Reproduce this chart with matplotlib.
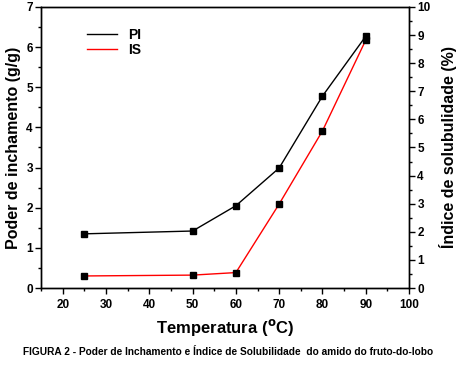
import matplotlib
matplotlib.use('Agg')
import matplotlib.pyplot as plt
from matplotlib.ticker import MultipleLocator
from matplotlib.lines import Line2D

plt.rcParams['font.family'] = ['Liberation Sans', 'DejaVu Sans']

# Data
temperatura = [25, 50, 60, 70, 80, 90]
poder_inchamento = [1.35, 1.42, 2.05, 2.99, 4.78, 6.27]   # g/g, left axis
indice_solubilidade = [0.43, 0.46, 0.55, 2.99, 5.59, 8.82]  # %, right axis

fig = plt.figure(figsize=(4.57, 3.66), dpi=100)
ax = fig.add_axes([0.09, 0.213, 0.805, 0.768])
ax2 = ax.twinx()

# Plot lines
ax.plot(temperatura, poder_inchamento, color='black', lw=1.0,
        marker='s', ms=5, mfc='black', mec='black')
ax2.plot(temperatura, indice_solubilidade, color='red', lw=1.0)
ax2.plot(temperatura, indice_solubilidade, ls='none', marker='s', ms=5,
         mfc='black', mec='black')

ax.set_xlim(15, 100)
ax.set_ylim(0, 7)
ax2.set_ylim(0, 10)

ax.xaxis.set_major_locator(MultipleLocator(10))
ax.xaxis.set_minor_locator(MultipleLocator(5))
ax.yaxis.set_major_locator(MultipleLocator(1))
ax.yaxis.set_minor_locator(MultipleLocator(0.5))
ax2.yaxis.set_major_locator(MultipleLocator(1))
ax2.yaxis.set_minor_locator(MultipleLocator(0.5))

for a in (ax, ax2):
    a.tick_params(which='major', direction='out', length=4, width=1, labelsize=8.5)
    a.tick_params(which='minor', direction='out', length=2, width=1)
    for s in a.spines.values():
        s.set_linewidth(1.0)
    for lbl in a.get_xticklabels() + a.get_yticklabels():
        lbl.set_fontweight('bold')
ax.tick_params(axis='both', which='both', top=False, right=False)
ax2.tick_params(axis='y', which='both', left=False, right=True)
ax.tick_params(axis='x', pad=4)
ax.tick_params(axis='y', pad=2)
ax2.tick_params(axis='y', pad=2)

ax.set_xlabel('Temperatura ($\\mathbf{^{o}}$C)', fontsize=12, fontweight='bold', labelpad=4)
ax.set_ylabel('Poder de inchamento (g/g)', fontsize=11.5, fontweight='bold', labelpad=4)
ax2.set_ylabel('Índice de solubulidade (%)', fontsize=11.5, fontweight='bold',
               rotation=90, labelpad=6)

handles = [Line2D([], [], color='black', lw=1.0), Line2D([], [], color='red', lw=1.0)]
ax.legend(handles, ['PI', 'IS'], loc='upper left', bbox_to_anchor=(0.09, 0.97),
          frameon=False, handlelength=2.2, handletextpad=0.8,
          labelspacing=0.1, prop={'weight': 'bold', 'size': 10})

fig.text(0.5, 0.038, 'FIGURA 2 - Poder de Inchamento e Índice de Solubilidade  do amido do fruto-do-lobo',
         ha='center', va='center', fontsize=7.3, fontweight='bold')

fig.savefig('out.png', dpi=100)
